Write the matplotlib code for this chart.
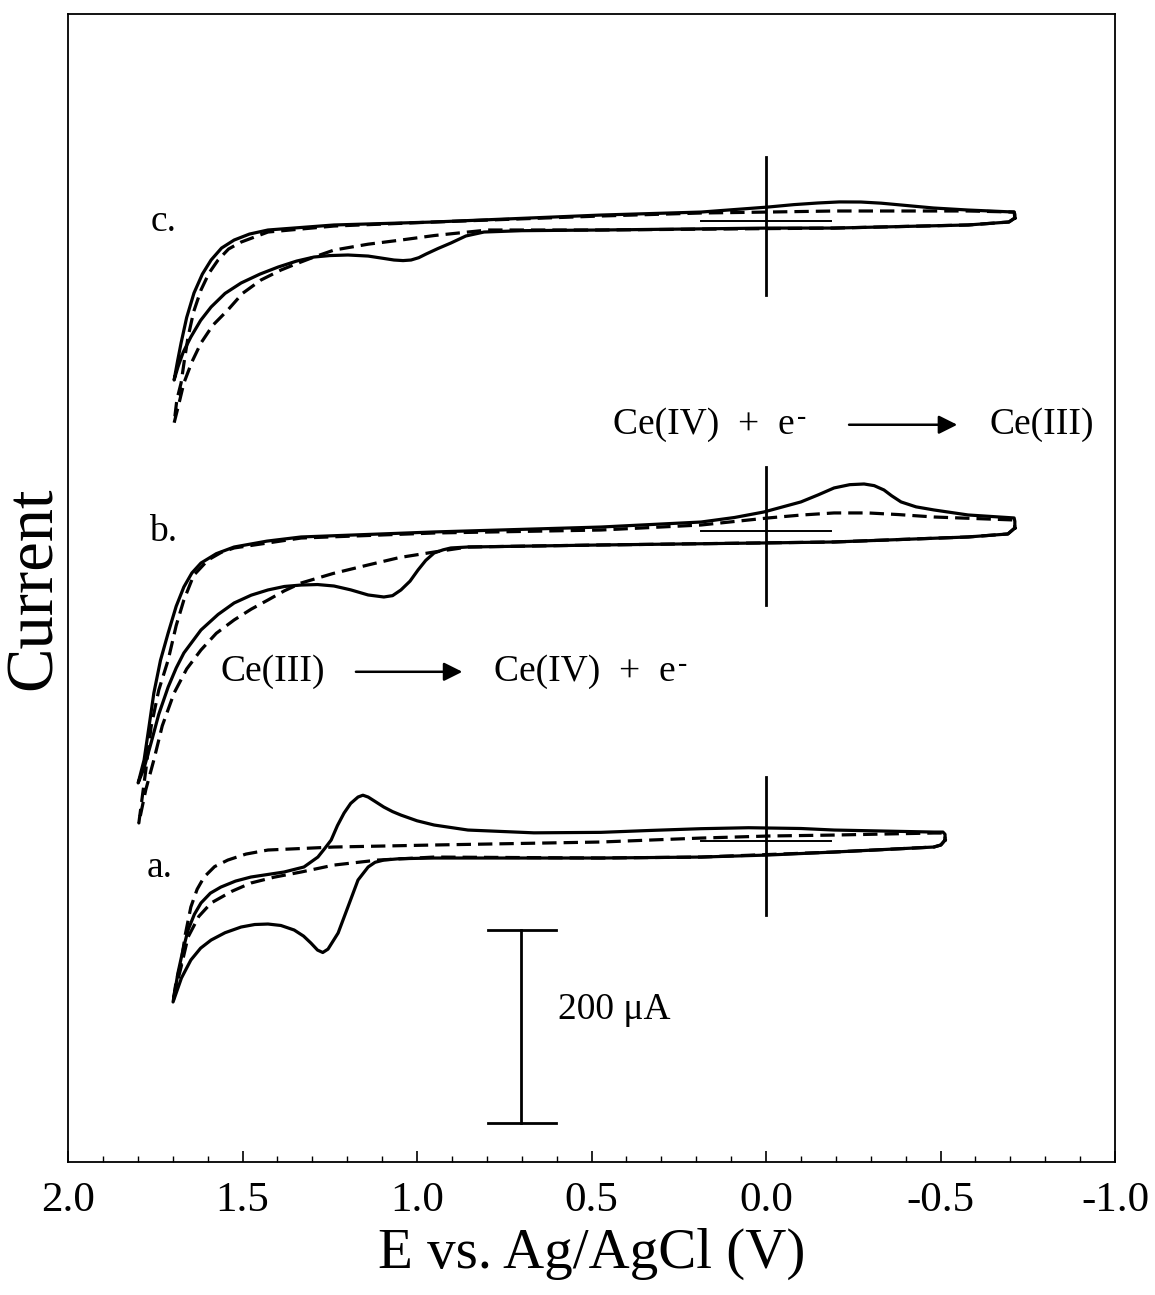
import numpy as np
import matplotlib
matplotlib.use("Agg")
from matplotlib import pyplot as plt

plt.rcParams['font.family'] = ['Liberation Serif', 'DejaVu Serif']

## cyclic voltammograms, E in V vs Ag/AgCl, current in uA (relative to each trace's zero)
## each loop: anodic sweep from the negative vertex, then the cathodic sweep back

## trace a
a_solid_E = [-0.513, -0.501, -0.481, -0.195, -0.006, 0.186, 0.473, 0.951, 1.050, 1.095, 1.120, 1.140,
             1.169, 1.198, 1.226, 1.255, 1.270, 1.285, 1.304, 1.325, 1.352, 1.390, 1.427, 1.465,
             1.504, 1.550, 1.590, 1.620, 1.648, 1.675, 1.699,
             1.685, 1.670, 1.656, 1.638, 1.619, 1.592, 1.562, 1.520, 1.476, 1.381, 1.324, 1.284,
             1.265, 1.246, 1.228, 1.209, 1.190, 1.169, 1.155, 1.140, 1.120, 1.095, 1.070, 1.046,
             1.000, 0.951, 0.854, 0.665, 0.473, 0.330, 0.186, 0.050, -0.100, -0.195, -0.481, -0.507,
             -0.513, -0.513]
a_solid_I = [1.0, -4.1, -6.2, -11.4, -14.5, -16.6, -17.6, -17.6, -18.3, -19.7, -22.0, -26.9,
             -40.4, -68.4, -95.3, -112.0, -115.5, -113.0, -105.7, -98.5, -92.2, -87.5, -86.0, -86.5,
             -89.1, -95.0, -102.6, -111.0, -123.3, -142.0, -166.8,
             -136.8, -112.0, -92.2, -76.0, -64.2, -54.0, -47.7, -41.5, -37.3, -32.1, -26.9, -16.6,
             -8.0, 1.0, 16.0, 29.0, 39.0, 45.6, 47.5, 45.6, 41.0, 35.2, 30.5, 26.9,
             21.0, 16.6, 11.4, 8.5, 9.0, 11.0, 12.8, 13.8, 13.0, 11.4, 9.3, 9.3,
             7.0, 1.0]
a_dash_E = [-0.513, -0.501, -0.481, -0.195, 0.186, 0.473, 0.951, 1.112, 1.238, 1.332, 1.410, 1.476,
            1.530, 1.590, 1.625, 1.656, 1.676, 1.688, 1.699,
            1.690, 1.676, 1.664, 1.648, 1.630, 1.610, 1.580, 1.542, 1.490, 1.427, 1.238, 0.951,
            0.473, 0.186, -0.006, -0.195, -0.481, -0.513, -0.513]
a_dash_I = [1.0, -4.1, -6.2, -11.4, -16.6, -17.6, -16.6, -19.7, -24.9, -32.1, -37.5, -43.5,
            -52.0, -64.2, -78.0, -99.5, -130.6, -148.0, -166.8,
            -145.0, -126.4, -97.0, -68.4, -50.0, -37.3, -26.5, -19.7, -13.5, -9.3, -6.2, -4.1,
            -1.0, 3.1, 5.2, 6.2, 8.3, 8.3, 1.0]

## trace b
b_solid_E = [-0.713, -0.693, -0.579, -0.195, 0.006, 0.473, 0.854, 0.903, 0.925, 0.951, 0.975, 0.997,
             1.020, 1.046, 1.070, 1.095, 1.140, 1.190, 1.238, 1.285, 1.332, 1.380, 1.427, 1.475,
             1.524, 1.570, 1.619, 1.668, 1.690, 1.713, 1.740, 1.762, 1.782, 1.799,
             1.782, 1.768, 1.754, 1.735, 1.713, 1.690, 1.668, 1.645, 1.619, 1.575, 1.524, 1.430,
             1.332, 0.951, 0.473, 0.186, 0.090, 0.006, -0.100, -0.150, -0.195, -0.240, -0.281,
             -0.310, -0.338, -0.360, -0.387, -0.430, -0.481, -0.579, -0.711, -0.713, -0.713]
b_solid_I = [3.1, -3.1, -6.2, -11.4, -12.4, -14.5, -16.6, -17.6, -19.5, -22.8, -30.5, -40.4,
             -52.0, -61.1, -67.0, -68.4, -66.3, -61.0, -57.0, -55.5, -56.0, -57.5, -61.1, -66.5,
             -74.6, -86.5, -102.6, -126.4, -142.0, -161.7, -190.0, -219.7, -245.6, -261.1,
             -237.3, -203.0, -167.9, -134.0, -105.7, -78.0, -58.0, -43.5, -33.2, -23.5, -16.6, -10.5,
             -6.2, -1.0, 4.1, 9.3, 14.0, 19.7, 30.1, 37.5, 44.6, 48.0, 48.7,
             47.0, 42.5, 36.5, 30.1, 25.0, 21.8, 16.6, 13.5, 10.0, 3.1]
b_dash_E = [-0.713, -0.693, -0.579, -0.195, 0.473, 0.854, 0.951, 1.050, 1.140, 1.240, 1.332, 1.380,
            1.427, 1.475, 1.524, 1.575, 1.619, 1.660, 1.696, 1.730, 1.754, 1.777, 1.797,
            1.787, 1.777, 1.762, 1.740, 1.713, 1.690, 1.668, 1.640, 1.599, 1.560, 1.524, 1.332,
            0.951, 0.473, 0.186, -0.006, -0.100, -0.195, -0.292, -0.380, -0.481, -0.711, -0.713]
b_dash_I = [3.1, -3.1, -6.2, -11.4, -14.5, -16.6, -21.8, -27.5, -35.2, -44.0, -53.9, -62.0,
            -71.5, -81.0, -92.2, -106.0, -123.3, -143.0, -167.9, -202.0, -237.3, -268.0, -302.6,
            -275.0, -247.7, -203.1, -165.0, -133.7, -98.0, -71.5, -46.0, -30.1, -22.0, -17.6, -7.3,
            -2.1, 1.0, 6.2, 13.5, 16.5, 18.7, 18.7, 17.0, 14.5, 11.4, 3.1]

## trace c
c_solid_E = [-0.713, -0.696, -0.579, -0.195, -0.006, 0.473, 0.700, 0.808, 0.860, 0.903, 0.940, 0.974,
             0.995, 1.017, 1.040, 1.066, 1.100, 1.140, 1.198, 1.250, 1.295, 1.345, 1.398, 1.450,
             1.504, 1.550, 1.590, 1.620, 1.648, 1.670, 1.685, 1.696,
             1.686, 1.676, 1.660, 1.639, 1.615, 1.590, 1.560, 1.524, 1.480, 1.427, 1.238, 0.951,
             0.473, 0.186, -0.006, -0.080, -0.149, -0.210, -0.272, -0.330, -0.387, -0.480, -0.579,
             -0.711, -0.713, -0.713]
c_solid_I = [3.1, -1.0, -4.1, -7.3, -7.3, -9.3, -10.0, -11.4, -15.5, -22.8, -28.5, -34.2,
             -38.0, -40.4, -41.0, -40.4, -38.5, -36.3, -35.2, -35.8, -37.3, -41.5, -47.7, -55.0,
             -64.2, -75.0, -89.1, -103.0, -120.2, -136.0, -151.3, -164.8,
             -145.0, -126.4, -100.0, -74.6, -55.0, -40.4, -28.0, -19.7, -13.5, -9.3, -4.1, -1.0,
             6.2, 9.3, 14.5, 17.0, 18.7, 19.8, 19.7, 18.5, 16.6, 13.5, 11.4,
             9.3, 7.0, 3.1]
c_dash_E = [-0.713, -0.696, -0.579, -0.195, 0.473, 0.797, 0.854, 0.950, 1.046, 1.140, 1.238, 1.295,
            1.340, 1.390, 1.447, 1.500, 1.542, 1.585, 1.619, 1.645, 1.668, 1.684, 1.696,
            1.688, 1.676, 1.666, 1.656, 1.640, 1.619, 1.596, 1.570, 1.540, 1.504, 1.427, 1.238,
            0.951, 0.473, 0.186, -0.006, -0.195, -0.367, -0.579, -0.711, -0.713]
c_dash_I = [3.1, -1.0, -4.1, -7.3, -9.3, -9.3, -11.4, -15.0, -19.7, -24.0, -30.1, -37.3,
            -43.5, -50.8, -61.1, -75.0, -92.2, -108.0, -126.4, -146.0, -167.9, -192.0, -209.3,
            -185.0, -167.9, -143.0, -120.2, -94.0, -71.5, -54.0, -40.4, -29.0, -21.8, -11.4, -5.2,
            -1.0, 5.2, 8.3, 9.3, 10.4, 10.4, 10.4, 9.3, 3.1]

# vertical offsets of the three traces (uA)
offsets = {'a': 332.6, 'b': 653.9, 'c': 975.1}
trace_labels = {'a': 'a.', 'b': 'b.', 'c': 'c.'}
label_E = {'a': 1.774, 'b': 1.768, 'c': 1.762}
label_y = {'a': 304.7, 'b': 653.0, 'c': 974.0}

xticks = [2.0, 1.5, 1.0, 0.5, 0.0, -0.5, -1.0]

fig = plt.figure(figsize=(11.55, 12.95), dpi=100)
ax = fig.add_axes([68 / 1155, 1 - 1162 / 1295, 1047 / 1155, 1148 / 1295])

lw = 2.3
dash = (4.5, 2.2)
traces = {
    'a': (a_solid_E, a_solid_I, a_dash_E, a_dash_I),
    'b': (b_solid_E, b_solid_I, b_dash_E, b_dash_I),
    'c': (c_solid_E, c_solid_I, c_dash_E, c_dash_I),
}
for key, (sE, sI, dE, dI) in traces.items():
    off = offsets[key]
    ax.plot(dE, np.array(dI) + off, color='black', lw=lw, ls=(0, dash), solid_joinstyle='round')
    ax.plot(sE, np.array(sI) + off, color='black', lw=lw, solid_joinstyle='round')
    # zero current marker
    ax.plot([0.0, 0.0], [off - 77, off + 66], color='black', lw=2.0)
    ax.plot([0.186, -0.186], [off, off], color='black', lw=1.4)
    ax.text(label_E[key], label_y[key], trace_labels[key], fontsize=27, ha='left', va='center')


def e_minus(x, y):
    # "Ce(IV) + e" with a small superscript minus
    t = ax.text(x, y, 'Ce(IV)  +  e', fontsize=27, ha='left', va='center')
    ax.annotate('-', xy=(1, 0.72), xycoords=t, xytext=(1.5, 0), textcoords='offset points',
                fontsize=20, ha='left', va='center')


# reaction labels
e_minus(0.438, 764)
ax.annotate('', xy=(-0.548, 764), xytext=(-0.238, 764),
            arrowprops=dict(arrowstyle='-|>', lw=1.8, color='black', mutation_scale=28,
                            shrinkA=0, shrinkB=0))
ax.text(-0.639, 764, 'Ce(III)', fontsize=27, ha='left', va='center')

ax.text(1.562, 508, 'Ce(III)', fontsize=27, ha='left', va='center')
ax.annotate('', xy=(0.870, 508), xytext=(1.175, 508),
            arrowprops=dict(arrowstyle='-|>', lw=1.8, color='black', mutation_scale=28,
                            shrinkA=0, shrinkB=0))
e_minus(0.779, 508)

# 200 uA scale bar
ax.plot([0.702, 0.702], [40.4, 240.4], color='black', lw=2.0)
ax.plot([0.797, 0.602], [40.4, 40.4], color='black', lw=2.0)
ax.plot([0.797, 0.602], [240.4, 240.4], color='black', lw=2.0)
ax.text(0.596, 158, '200 \u03bcA', fontsize=27, ha='left', va='center')

ax.set_xlim(2.0, -1.0)
ax.set_ylim(0, 1148 / 0.965)
ax.set_xticks(xticks)
ax.set_xticklabels(['%.1f' % t for t in xticks])
ax.set_xticks(np.arange(-10, 21) / 10.0, minor=True)
ax.tick_params(axis='x', which='major', direction='in', length=8, width=1.2, labelsize=31, pad=14)
ax.tick_params(axis='x', which='minor', direction='in', length=4, width=1.0)
ax.set_yticks([])
for sp in ax.spines.values():
    sp.set_linewidth(1.3)

ax.set_xlabel('E vs. Ag/AgCl (V)', fontsize=41, labelpad=6)
ax.set_ylabel('Current', fontsize=48, labelpad=2)

fig.savefig('out.png', dpi=100)
